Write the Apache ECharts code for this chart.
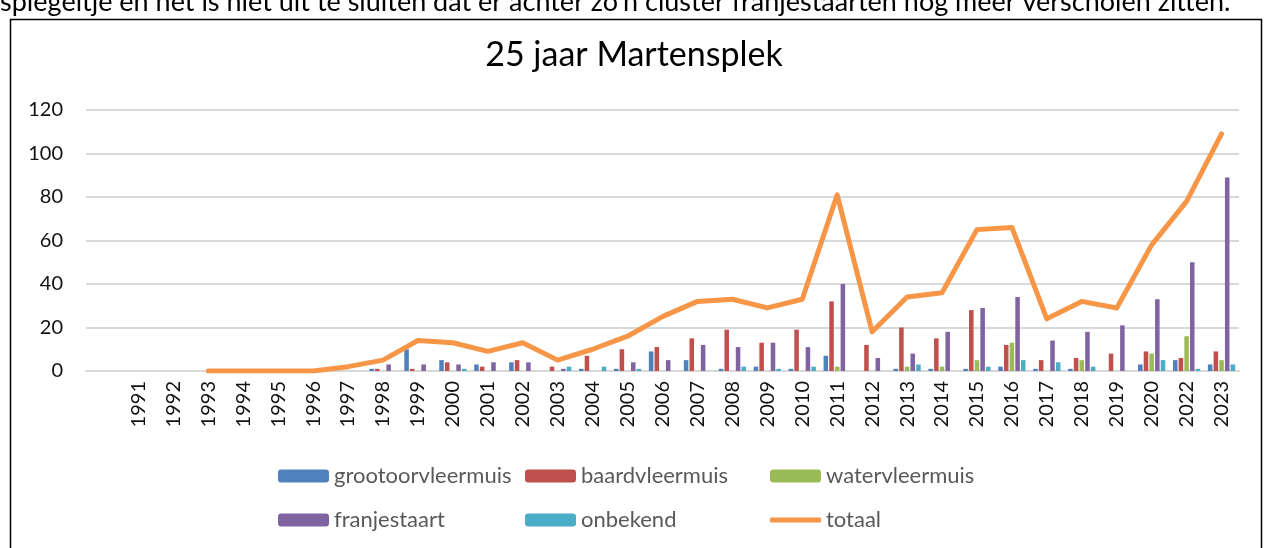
<!DOCTYPE html>
<html>
<head>
<meta charset="utf-8">
<script src="https://cdn.jsdelivr.net/npm/echarts@6/dist/echarts.min.js"></script>
<style>
  html, body { margin: 0; padding: 0; background: #fff; }
  #chart { width: 1268px; height: 548px; }
</style>
</head>
<body>
<div id="chart"></div>
<script>
// categorieen (eerste is leeg, 2021 ontbreekt)
const jaren = ['', '1991', '1992', '1993', '1994', '1995', '1996', '1997', '1998', '1999', '2000',
  '2001', '2002', '2003', '2004', '2005', '2006', '2007', '2008', '2009', '2010',
  '2011', '2012', '2013', '2014', '2015', '2016', '2017', '2018', '2019', '2020', '2022', '2023'];

const grootoorvleermuis = [null, 0, 0, 0, 0, 0, 0, 0, 1, 10, 5, 3, 4, 0, 1, 1, 9, 5, 1, 2, 1, 7, 0, 1, 1, 1, 2, 1, 1, 0, 3, 5, 3];
const baardvleermuis    = [null, 0, 0, 0, 0, 0, 0, 0, 1, 1, 4, 2, 5, 2, 7, 10, 11, 15, 19, 13, 19, 32, 12, 20, 15, 28, 12, 5, 6, 8, 9, 6, 9];
const watervleermuis    = [null, 0, 0, 0, 0, 0, 0, 0, 0, 0, 0, 0, 0, 0, 0, 0, 0, 0, 0, 0, 0, 2, 0, 2, 2, 5, 13, 0, 5, 0, 8, 16, 5];
const franjestaart      = [null, 0, 0, 0, 0, 0, 0, 0, 3, 3, 3, 4, 4, 1, 0, 4, 5, 12, 11, 13, 11, 40, 6, 8, 18, 29, 34, 14, 18, 21, 33, 50, 89];
const onbekend          = [null, 0, 0, 0, 0, 0, 0, 0, 0, 0, 1, 0, 0, 2, 2, 1, 0, 0, 2, 1, 2, 0, 0, 3, 0, 2, 5, 4, 2, 0, 5, 1, 3];
const totaal            = [null, null, null, 0, 0, 0, 0, 2, 5, 14, 13, 9, 13, 5, 10, 16, 25, 32, 33, 29, 33, 81, 18, 34, 36, 65, 66, 24, 32, 29, 58, 78, 109];

const yTicks = { min: 0, max: 120, interval: 20 };

const font = 'Lato, "Open Sans", sans-serif';
const kleuren = ['#4F81BD', '#C0504D', '#9BBB59', '#8064A2', '#4BACC6', '#F79646'];

const chartDom = document.getElementById('chart');
const chart = echarts.init(chartDom, null, { renderer: 'canvas' });

const barSeries = (name, data, idx) => ({
  name: name,
  type: 'bar',
  data: data,
  barGap: '25%',
  barCategoryGap: '22%',
  itemStyle: { color: kleuren[idx] },
  emphasis: { disabled: true }
});

// legenda: los per item zodat het een raster wordt
const legendItem = (name, left, top, isLine) => ({
  data: [isLine ? { name: name, icon: 'roundRect' } : name],
  left: left,
  top: top,
  padding: 0,
  itemWidth: 51,
  itemHeight: isLine ? 5 : 13,
  itemGap: 4,
  selectedMode: false,
  textStyle: { fontFamily: font, fontSize: 22, color: '#595959' }
});

const option = {
  animation: false,
  backgroundColor: '#fff',
  textStyle: { fontFamily: font },
  title: {
    text: '25 jaar Martensplek',
    left: 'center',
    top: 33,
    textStyle: { fontFamily: font, fontSize: 34, fontWeight: 'normal', color: '#000' }
  },
  graphic: [
    {
      type: 'text',
      left: 0,
      top: -11,
      style: {
        text: "spiegeltje en het is niet uit te sluiten dat er achter zo'n cluster franjestaarten nog meer verscholen zitten.",
        font: '27px ' + font,
        fill: '#000'
      }
    },
    {
      type: 'rect',
      shape: { x: 10.5, y: 19.5, width: 1251, height: 560 },
      style: { fill: 'none', stroke: '#000', lineWidth: 1.5 },
      silent: true
    }
  ],
  legend: [
    legendItem('grootoorvleermuis', 278, 465),
    legendItem('baardvleermuis', 525, 465),
    legendItem('watervleermuis', 770, 465),
    legendItem('franjestaart', 278, 509),
    legendItem('onbekend', 525, 509),
    legendItem('totaal', 770, 509, true)
  ],
  grid: { left: 86, right: 29, top: 110, bottom: 177 },
  xAxis: {
    type: 'category',
    data: jaren,
    axisTick: { show: false },
    axisLine: { show: true, lineStyle: { color: '#d9d9d9', width: 2 } },
    axisLabel: {
      interval: 0,
      rotate: 90,
      margin: 10,
      fontFamily: font,
      fontSize: 20,
      color: '#111'
    }
  },
  yAxis: {
    type: 'value',
    min: yTicks.min,
    max: yTicks.max,
    interval: yTicks.interval,
    axisLine: { show: false },
    axisTick: { show: false },
    axisLabel: { margin: 23, fontFamily: font, fontSize: 20, color: '#111' },
    splitLine: { lineStyle: { color: '#d9d9d9', width: 2 } }
  },
  series: [
    barSeries('grootoorvleermuis', grootoorvleermuis, 0),
    barSeries('baardvleermuis', baardvleermuis, 1),
    barSeries('watervleermuis', watervleermuis, 2),
    barSeries('franjestaart', franjestaart, 3),
    barSeries('onbekend', onbekend, 4),
    {
      name: 'totaal',
      type: 'line',
      data: totaal,
      symbol: 'none',
      showSymbol: false,
      lineStyle: { color: kleuren[5], width: 5, join: 'round', cap: 'round' },
      itemStyle: { color: kleuren[5] },
      emphasis: { disabled: true }
    }
  ]
};

chart.setOption(option);
</script>
</body>
</html>
